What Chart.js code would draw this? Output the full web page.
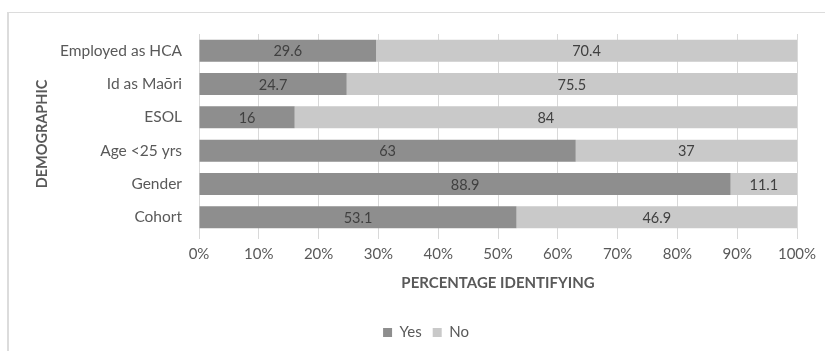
<!DOCTYPE html>
<html>
<head>
<meta charset="utf-8">
<script src="https://cdn.jsdelivr.net/npm/chart.js@4/dist/chart.umd.min.js"></script>
<style>
  body { margin: 0; background: #fff; overflow: hidden; width: 825px; height: 351px; position: relative; }
  #frame { position: absolute; left: 7px; top: 12px; width: 900px; height: 400px;
           border-top: 1px solid #dcdcdc; border-left: 2px solid #dcdcdc; }
  #wrap { position: absolute; left: 0; top: 0; width: 852px; height: 351px; }
</style>
</head>
<body>
<div id="frame"></div>
<div id="wrap"><canvas id="chart" width="852" height="351"></canvas></div>
<script>
const categories = ['Employed as HCA', 'Id as Maōri', 'ESOL', 'Age <25 yrs', 'Gender', 'Cohort'];
const yesValues = [29.6, 24.7, 16, 63, 88.9, 53.1];
const noValues = [70.4, 75.5, 84, 37, 11.1, 46.9];
const xTicks = [0, 10, 20, 30, 40, 50, 60, 70, 80, 90, 100];

const FONT = 'Lato, "Open Sans", sans-serif';
const TEXT = '#595959';

// values written in the middle of each bar segment
const barLabels = {
  id: 'barLabels',
  afterDatasetsDraw(chart) {
    const ctx = chart.ctx;
    ctx.save();
    ctx.font = '14.5px ' + FONT;
    ctx.fillStyle = '#404040';
    ctx.textAlign = 'center';
    ctx.textBaseline = 'middle';
    chart.data.datasets.forEach((ds, i) => {
      chart.getDatasetMeta(i).data.forEach((bar, j) => {
        const right = Math.min(bar.x, chart.chartArea.right);
        ctx.fillText(String(ds.data[j]), (right + bar.base) / 2, bar.y + 1);
      });
    });
    ctx.restore();
  }
};

new Chart(document.getElementById('chart'), {
  type: 'bar',
  data: {
    labels: categories,
    datasets: [
      { label: 'Yes', data: yesValues, backgroundColor: '#8e8e8e', borderWidth: 0,
        barPercentage: 0.66, categoryPercentage: 1 },
      { label: 'No', data: noValues, backgroundColor: '#c9c9c9', borderWidth: 0,
        barPercentage: 0.66, categoryPercentage: 1 }
    ]
  },
  options: {
    indexAxis: 'y',
    responsive: false,
    animation: false,
    layout: { padding: { top: 34, right: 55, left: 55, bottom: 1 } },
    plugins: {
      tooltip: { enabled: false },
      legend: {
        position: 'bottom',
        labels: { boxWidth: 9, boxHeight: 9, padding: 11, color: TEXT, font: { family: FONT, size: 15 } }
      }
    },
    scales: {
      x: {
        stacked: true,
        min: 0, max: 100,
        afterBuildTicks: s => { s.ticks = xTicks.map(v => ({ value: v })); },
        ticks: { callback: v => v + '%', color: TEXT, padding: 6, font: { family: FONT, size: 15 } },
        grid: { color: '#d9d9d9', tickLength: 5 },
        border: { display: false },
        title: { display: true, text: 'PERCENTAGE IDENTIFYING', color: TEXT,
                 font: { family: FONT, size: 15, weight: 'bold' }, padding: { top: 0, bottom: 22 } },
        afterFit: s => { s.height = 80; }
      },
      y: {
        stacked: true,
        grid: { display: false, drawTicks: false },
        border: { display: true, color: '#d9d9d9' },
        ticks: { color: TEXT, padding: 17, font: { family: FONT, size: 15.5 } },
        title: { display: true, text: 'DEMOGRAPHIC', color: TEXT,
                 font: { family: FONT, size: 14.5, weight: 'bold' }, padding: { top: -21, bottom: 0 } },
        afterFit: s => { s.width = 144; }
      }
    }
  },
  plugins: [barLabels]
});
</script>
</body>
</html>
